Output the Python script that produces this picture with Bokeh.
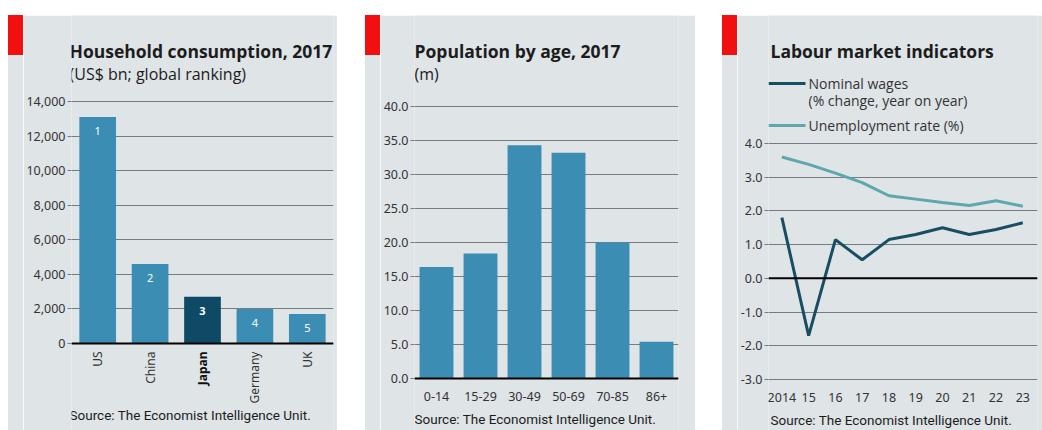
from bokeh.plotting import figure
from bokeh.layouts import row, column
from bokeh.models import (Range1d, FactorRange, ColumnDataSource, LabelSet, Label, Div,
                          BoxAnnotation, Span, FixedTicker, NumeralTickFormatter)
from bokeh.core.properties import value
from bokeh.embed import file_html
from bokeh.resources import INLINE

# ---------------- data ----------------
countries = ["US", "China", "Japan", "Germany", "UK"]
consumption = [13100, 4600, 2700, 2000, 1700]
ranks = ["1", "2", "3", "4", "5"]
highlight = "Japan"
consumption_ticks = [0, 2000, 4000, 6000, 8000, 10000, 12000, 14000]

age_groups = ["0-14", "15-29", "30-49", "50-69", "70-85", "86+"]
population = [16.4, 18.4, 34.3, 33.2, 20.0, 5.4]
population_ticks = [0, 5, 10, 15, 20, 25, 30, 35, 40]

years = [2014, 2015, 2016, 2017, 2018, 2019, 2020, 2021, 2022, 2023]
year_labels = ["2014", "15", "16", "17", "18", "19", "20", "21", "22", "23"]
wages = [1.8, -1.7, 1.15, 0.55, 1.15, 1.3, 1.5, 1.3, 1.45, 1.65]
unemployment = [3.6, 3.38, 3.12, 2.84, 2.45, 2.35, 2.25, 2.16, 2.3, 2.14]
labour_ticks = [-3, -2, -1, 0, 1, 2, 3, 4]

titles = ["Household consumption, 2017", "Population by age, 2017", "Labour market indicators"]
subtitles = ["(US$ bn; global ranking)", "(m)"]
legend_labels = ["Nominal wages", "(% change, year on year)", "Unemployment rate (%)"]
source = "Source: The Economist Intelligence Unit."

# ---------------- style ----------------
BG = "#dfe4e7"
GRID = "#767c81"
RED = "#f20f0f"
BLUE = "#3b8db4"
DARK = "#0e4a66"
WAGE = "#174e62"
UNEMP = "#5ea7ac"
TXT = "#1c1c1c"
TICK = "#333333"
TITLE_FONT = "Open Sans"
SOURCE_FONT = "Roboto"
TICK_FONT = "Noto Sans"
FIG_H = 415


def y_range_for(lo, hi, lo_px, hi_px, height=FIG_H):
    """Range whose values lo/hi land on canvas rows lo_px/hi_px (frame = whole canvas height)."""
    per_px = (hi - lo) / (lo_px - hi_px)
    return Range1d(lo - (height - lo_px) * per_px, hi + hi_px * per_px)


def base_fig(width, x_range, y_range, ml, mr, ticks, fmt):
    p = figure(width=width, height=FIG_H, x_range=x_range, y_range=y_range,
               output_backend="svg", toolbar_location=None,
               min_border_left=ml, min_border_right=mr,
               min_border_top=0, min_border_bottom=0)
    p.background_fill_color = BG
    p.border_fill_color = BG
    p.outline_line_color = None
    p.xgrid.grid_line_color = None
    ticker = FixedTicker(ticks=ticks)
    p.yaxis.ticker = ticker
    p.ygrid.ticker = ticker
    p.yaxis.formatter = NumeralTickFormatter(format=fmt)
    p.ygrid.grid_line_color = GRID
    p.ygrid.grid_line_width = 1
    p.yaxis.axis_line_color = None
    p.yaxis.major_tick_out = 4
    p.yaxis.major_tick_in = 0
    p.yaxis.major_tick_line_color = GRID
    p.yaxis.minor_tick_line_color = None
    p.yaxis.major_label_standoff = 2
    p.yaxis.major_label_text_font = TICK_FONT
    p.yaxis.major_label_text_font_size = "12.5px"
    p.yaxis.major_label_text_color = TICK
    p.xaxis.major_tick_line_color = None
    p.xaxis.minor_tick_line_color = None
    p.xaxis.major_label_text_font = TICK_FONT
    p.xaxis.major_label_text_font_size = "12.5px"
    p.xaxis.major_label_text_color = TICK
    return p


def add_text(p, x, y, text, size, bold=False, color=TXT, font=TITLE_FONT):
    p.add_layout(Label(x=x, y=y, x_units="canvas", y_units="canvas", text=text,
                       text_font=font, text_font_size=size,
                       text_font_style="bold" if bold else "normal",
                       text_color=color, text_baseline="middle", text_align="left"))


def tab_column():
    return column(Div(width=15, height=40, margin=0, styles={"background-color": RED}),
                  Div(width=15, height=FIG_H - 40, margin=0, styles={"background-color": BG}))


# ---------------- panel 1 ----------------
p1 = base_fig(314, FactorRange(*countries, range_padding=0),
              y_range_for(0, 14000, 328, 86), 45, 4, consumption_ticks, "0,0")
src1 = ColumnDataSource(dict(
    country=countries, value=consumption, rank=ranks,
    color=[DARK if c == highlight else BLUE for c in countries],
    style=["bold" if c == highlight else "normal" for c in countries],
    tcolor=["#111111" if c == highlight else TICK for c in countries],
))
p1.vbar(x="country", top="value", width=0.7, source=src1, fill_color="color", line_color=None)
p1.xaxis.fixed_location = 0
p1.xaxis.axis_line_color = "black"
p1.xaxis.axis_line_width = 2
p1.xaxis.major_label_text_color = None
p1.add_layout(LabelSet(x="country", y="value", text="rank", source=src1,
                       y_offset=-14, text_align="center", text_baseline="middle",
                       text_color="white", text_font=value(TICK_FONT), text_font_size="11px",
                       text_font_style="style"))
p1.add_layout(LabelSet(x="country", y=0, text="country", source=src1,
                       y_offset=-8, angle=90, angle_units="deg",
                       text_align="right", text_baseline="middle",
                       text_color="tcolor", text_font=value(TICK_FONT), text_font_size="12px",
                       text_font_style="style"))
add_text(p1, 46, 35, titles[0], "17.5px", bold=True)
add_text(p1, 46, 58, subtitles[0], "16px")
add_text(p1, 46, 399, source, "13.5px", font=SOURCE_FONT)

# ---------------- panel 2 ----------------
p2 = base_fig(315, FactorRange(*age_groups, range_padding=0),
              y_range_for(0, 40, 363, 91), 33, 17, population_ticks, "0.0")
src2 = ColumnDataSource(dict(age=age_groups, value=population))
p2.vbar(x="age", top="value", width=0.77, source=src2, fill_color=BLUE, line_color=None)
p2.xaxis.fixed_location = 0
p2.xaxis.axis_line_color = "black"
p2.xaxis.axis_line_width = 2
p2.xaxis.major_label_standoff = 7
add_text(p2, 34, 35, titles[1], "17.5px", bold=True)
add_text(p2, 34, 58, subtitles[1], "16px")
add_text(p2, 34, 403, source, "13.5px", font=SOURCE_FONT)

# ---------------- panel 3 ----------------
p3 = base_fig(305, Range1d(2013.5, 2023.55), y_range_for(-3, 4, 364, 128),
              31, 5, labour_ticks, "0.0")
p3.line(years, unemployment, line_color=UNEMP, line_width=3)
p3.line(years, wages, line_color=WAGE, line_width=3)
p3.add_layout(Span(location=0, dimension="width", line_color="black", line_width=2))
p3.xaxis.fixed_location = -3
p3.xaxis.ticker = FixedTicker(ticks=years)
p3.xaxis.major_label_overrides = {y: lab for y, lab in zip(years, year_labels)}
p3.xaxis.axis_line_color = None
p3.xaxis.major_label_standoff = 7
add_text(p3, 33, 35, titles[2], "17.5px", bold=True)
for top, color in ((66.5, WAGE), (108.5, UNEMP)):
    p3.add_layout(BoxAnnotation(left=31, right=68, top=top, bottom=top + 3,
                                left_units="canvas", right_units="canvas",
                                top_units="canvas", bottom_units="canvas",
                                fill_color=color, fill_alpha=1, line_color=None))
add_text(p3, 71, 68, legend_labels[0], "14px", color=TICK)
add_text(p3, 71, 85, legend_labels[1], "14px", color=TICK)
add_text(p3, 71, 110, legend_labels[2], "14px", color=TICK)
add_text(p3, 33, 404, source, "13.5px", font=SOURCE_FONT)

panels = row(Div(width=8, height=FIG_H, margin=0),
             tab_column(), p1,
             Div(width=28, height=FIG_H, margin=0),
             tab_column(), p2,
             Div(width=27, height=FIG_H, margin=0),
             tab_column(), p3)
layout = column(Div(width=1042, height=15, margin=0), panels)

open("out.html", "w").write(file_html(layout, INLINE))
